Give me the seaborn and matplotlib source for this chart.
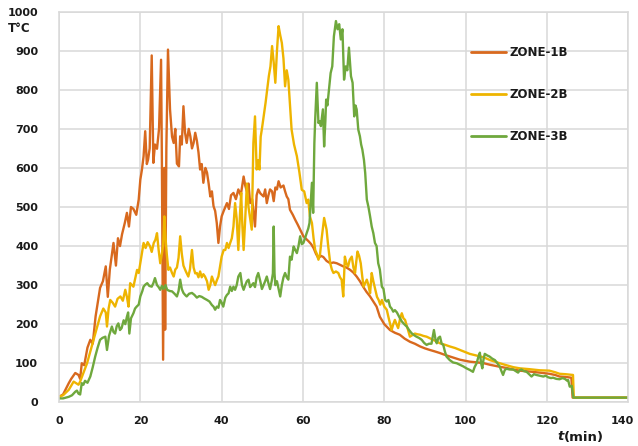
import numpy as np
import pandas as pd
import matplotlib
matplotlib.use("Agg")
import matplotlib.pyplot as plt
import matplotlib.transforms as mtransforms
import seaborn as sns

# ---- temperature records (time in min, temperature in °C) ----
t_zone1 = [0, 1, 2.4, 3, 4, 4.8, 5.2, 5.6, 6.2, 7, 7.7, 8.3, 9, 10.1, 10.8, 11.5, 12, 12.5,
           13.4, 14, 14.5, 15, 15.5, 16.2, 16.7, 17.2, 17.7, 18.3, 19, 19.6, 20, 20.4, 20.8,
           21.2, 21.6, 21.9, 22.3, 22.8, 23.2, 23.6, 24.1, 24.6, 25.1, 25.3, 25.6, 25.9, 26.1,
           26.4, 26.8, 27.3, 27.8, 28.2, 28.6, 29, 29.5, 29.8, 30.2, 30.6, 31, 31.4, 31.9,
           32.3, 32.7, 33.1, 33.5, 33.9, 34.3, 34.7, 35.1, 35.5, 36, 36.4, 36.8, 37.2, 37.6,
           38, 38.4, 38.8, 39.2, 39.6, 40, 40.5, 41.3, 41.8, 42.3, 42.9, 43.5, 44.1, 44.7,
           45.4, 45.8, 46.2, 46.6, 47, 47.5, 48.2, 48.6, 49, 49.5, 50.3, 50.7, 51.1, 51.5,
           51.9, 52.4, 52.8, 53.2, 53.6, 54, 54.5, 55.2, 55.6, 56, 56.4, 56.8, 57.5, 58.1,
           58.7, 59.3, 60.1, 60.8, 61.4, 62, 62.6, 63.2, 63.8, 64.4, 65, 65.8, 66.7, 67.5,
           68.3, 69.1, 69.9, 70.7, 71.6, 72.4, 73.2, 74, 74.8, 75.6, 76.5, 77.3, 78.1, 78.9,
           80, 81.4, 82.6, 83.8, 85, 86.3, 87.5, 88.8, 90, 91.2, 92.5, 93.7, 95, 96.2, 97.4,
           98.6, 100, 101, 103, 104.5, 106, 108.4, 110, 111.7, 113.3, 115.5, 118.2, 120.6,
           122, 123.1, 124.5, 126, 126.3, 140]
v_zone1 = [14, 20, 49, 60, 75, 70, 60, 100, 95, 140, 160, 150, 220, 293, 310, 348, 270, 340,
           408, 350, 420, 400, 430, 460, 485, 450, 500, 495, 480, 519, 570, 596, 630,
           694, 610, 621, 650, 888, 613, 660, 649, 700, 877, 620, 109, 600, 186,
           650, 903, 750, 680, 664, 700, 611, 604, 681, 660, 758, 690, 664, 700,
           681, 650, 664, 690, 670, 640, 596, 610, 562, 600, 588, 560, 527, 540,
           502, 490, 459, 408, 450, 476, 490, 510, 495, 530, 536, 520, 545, 530,
           578, 555, 540, 560, 510, 520, 450, 530, 545, 535, 527, 545, 510, 530,
           545, 540, 515, 550, 545, 566, 550, 555, 540, 527, 520, 493, 480, 467,
           455, 442, 425, 418, 412, 405, 395, 380, 369, 375, 372, 362, 356, 358,
           356, 352, 348, 345, 339, 332, 322, 310, 296, 283, 271, 258, 245, 219,
           200, 185, 178, 173, 163, 155, 150, 143, 138, 134, 130, 126, 121, 117, 113,
           109, 106, 104, 102, 100, 96, 91, 88, 84, 81, 79, 76, 73,
           70, 66, 65, 63, 12, 12]

t_zone2 = [0, 1, 2.4, 3.6, 4.8, 5.2, 6, 6.9, 7.7, 8.5, 9.3, 10.1, 10.9, 11.5, 11.8, 12.2, 12.6,
           13.2, 13.8, 14.4, 15.1, 15.7, 16.3, 16.7, 17.1, 17.5, 18.3, 18.8, 19.2, 19.6, 20.2,
           20.8, 21.3, 21.8, 22.4, 22.8, 23.3, 23.7, 24.1, 24.5, 24.9, 25.3, 25.6, 25.9, 26.2,
           26.5, 26.9, 27.3, 27.8, 28.2, 28.6, 29, 29.4, 29.8, 30.2, 30.6, 31.2, 31.8, 32.2,
           32.7, 33.1, 33.5, 33.9, 34.3, 34.7, 35.1, 35.5, 35.9, 36.4, 36.8, 37.2, 37.6, 38,
           38.4, 38.8, 39.2, 39.6, 40, 40.5, 40.9, 41.3, 41.7, 42.1, 42.5, 42.9, 43.3, 43.7,
           44.1, 44.5, 44.8, 45.1, 45.4, 45.8, 46.2, 46.6, 47, 47.4, 47.8, 48.2, 48.6, 49,
           49.3, 49.6, 49.9, 50.3, 50.8, 51.2, 51.6, 52, 52.4, 52.8, 53.2, 53.6, 54, 54.4,
           54.8, 55.2, 55.6, 56, 56.4, 56.8, 57.2, 57.8, 58.5, 59.1, 59.7, 60.3, 60.9, 61.3,
           61.7, 62.2, 62.6, 63, 63.4, 63.8, 64.2, 64.6, 65.2, 65.8, 66.2, 66.7, 67.1, 67.5,
           68.1, 68.7, 69.1, 69.5, 69.9, 70.3, 70.7, 71.1, 71.5, 72, 72.4, 72.8, 73.1, 73.4,
           73.8, 74.2, 74.6, 74.9, 75.3, 75.7, 76.1, 76.5, 76.9, 77.3, 77.8, 78.2, 78.6, 79,
           79.4, 80, 80.6, 81.2, 81.8, 82.2, 82.6, 83, 83.4, 83.9, 84.3, 84.7, 85.1, 85.7,
           86.3, 86.9, 87.5, 88.2, 88.8, 89.6, 90.4, 91.2, 92, 92.8, 93.7, 95, 96.1, 97.4,
           98.6, 100, 101, 103, 104.5, 106, 108.4, 110, 111.7, 113.3, 115.5, 118.2, 120.6,
           122, 123.1, 124.5, 126.4, 126.6, 140]
v_zone2 = [14, 18, 32, 53, 45, 53, 75, 100, 130, 160, 190, 220, 240, 230, 194, 240, 262,
           255, 245, 265, 271, 260, 288, 270, 245, 305, 296, 320, 339, 331, 370,
           408, 395, 410, 399, 385, 408, 416, 433, 390, 356, 380, 400, 476, 420,
           380, 339, 345, 331, 322, 340, 345, 370, 425, 380, 350, 335, 322, 340,
           390, 345, 330, 331, 320, 335, 320, 328, 322, 310, 288, 300, 322, 310,
           300, 312, 322, 348, 373, 390, 390, 408, 395, 408, 420, 450, 510, 470,
           390, 480, 536, 450, 390, 470, 560, 500, 470, 442, 664, 732, 596, 620,
           596, 680, 700, 730, 767, 800, 835, 860, 912, 870, 818, 900, 963, 940,
           920, 880, 809, 850, 826, 760, 698, 660, 630, 590, 544, 540, 510, 519,
           476, 459, 420, 390, 380, 365, 380, 420, 472, 442, 400, 356, 340, 331,
           335, 331, 320, 314, 271, 373, 355, 348, 365, 373, 345, 331, 360, 386,
           375, 356, 320, 296, 305, 314, 300, 279, 331, 310, 288, 270, 262, 250,
           262, 245, 237, 210, 185, 200, 211, 200, 190, 215, 228, 215, 211, 190,
           168, 172, 176, 174, 173, 170, 168, 164, 160, 156, 151, 147, 143, 139,
           134, 128, 124, 119, 115, 108, 100, 95, 90, 87, 85, 82, 81,
           77, 73, 72, 70, 12, 12]

t_zone3 = [0, 1, 2.4, 3.2, 4, 4.4, 4.8, 5.2, 5.6, 6, 6.4, 7, 7.7, 8.3, 8.9, 9.5, 10.1, 10.7,
           11.4, 11.8, 12.3, 13, 13.4, 13.8, 14.2, 14.6, 15, 15.4, 15.9, 16.3, 16.7, 17, 17.3,
           17.7, 18.3, 18.7, 19.1, 19.6, 20, 20.5, 20.8, 21.2, 21.7, 22.2, 22.8, 23.2, 23.6,
           24.1, 24.5, 24.9, 25.3, 25.7, 26.2, 26.6, 27.2, 27.8, 28.4, 29, 29.4, 29.8, 30.2,
           30.6, 31, 31.4, 32, 32.7, 33.3, 33.9, 34.5, 35.1, 35.7, 36.4, 37, 37.6, 38, 38.4,
           38.8, 39.2, 39.6, 40, 40.4, 40.9, 41.3, 41.7, 42.1, 42.5, 42.9, 43.3, 43.7, 44.1,
           44.6, 45, 45.4, 45.8, 46.2, 46.6, 47, 47.4, 47.8, 48.2, 48.6, 49, 49.5, 49.9, 50.3,
           50.7, 51.1, 51.5, 51.9, 52.3, 52.6, 52.8, 53, 53.2, 53.6, 54, 54.4, 54.8, 55.2,
           55.6, 56, 56.4, 56.8, 57.2, 57.7, 58.1, 58.5, 58.9, 59.3, 59.7, 60.1, 60.5, 60.9,
           61.3, 61.6, 61.9, 62.2, 62.5, 62.8, 63, 63.4, 63.8, 64.1, 64.4, 64.9, 65.2, 65.5,
           65.7, 66, 66.3, 66.8, 67.2, 67.6, 68.1, 68.5, 68.9, 69.3, 69.7, 70.1, 70.5, 70.9,
           71.3, 71.8, 72.2, 72.6, 72.9, 73.2, 73.6, 74, 74.3, 74.6, 75, 75.3, 75.7, 76.1,
           76.5, 76.9, 77.3, 77.7, 78.1, 78.5, 78.9, 79.4, 79.8, 80.2, 80.6, 81, 81.4, 81.8,
           82.2, 82.6, 83.1, 83.7, 84.3, 84.9, 85.5, 86.1, 86.7, 87.3, 87.9, 88.5, 89.2, 89.8,
           90.4, 91, 91.6, 92.2, 92.6, 92.9, 93.3, 93.7, 94.1, 94.5, 94.9, 95.3, 96.1, 96.9,
           97.8, 98.6, 99.4, 100.2, 101, 101.8, 102.2, 102.7, 103.1, 103.5, 103.8, 104.1,
           104.4, 104.7, 105.3, 105.9, 106.5, 107.2, 107.8, 108.4, 108.8, 109.2, 109.6, 110,
           110.8, 111.7, 112.3, 112.9, 113.3, 113.7, 114.3, 115, 115.6, 116.2, 116.8, 117.4,
           118.2, 119.1, 119.7, 120.3, 121, 121.5, 122.3, 123.1, 123.8, 124.4, 125, 125.2,
           125.6, 126.1, 126.5, 140]
v_zone3 = [10, 10, 14, 18, 27, 30, 22, 20, 49, 45, 55, 50, 66, 90, 117, 140, 160, 165,
           168, 134, 170, 194, 180, 176, 195, 202, 185, 190, 210, 200, 219, 230, 176,
           215, 228, 240, 245, 250, 271, 285, 296, 301, 305, 298, 296, 305, 318,
           300, 295, 288, 298, 290, 300, 288, 285, 284, 278, 271, 285, 314, 290,
           280, 275, 271, 278, 280, 275, 268, 272, 270, 266, 262, 258, 249, 245, 237,
           245, 242, 262, 255, 245, 268, 275, 279, 296, 285, 296, 288, 300, 322,
           331, 300, 288, 300, 310, 314, 295, 300, 305, 295, 320, 331, 310, 290, 300,
           310, 322, 305, 290, 310, 330, 450, 330, 300, 310, 290, 271, 300, 320,
           331, 320, 314, 373, 365, 399, 390, 382, 400, 425, 405, 408, 420, 433,
           445, 459, 510, 562, 485, 664, 724, 818, 715, 720, 707, 750, 655, 720,
           775, 760, 792, 843, 860, 937, 976, 955, 968, 929, 955, 826, 860, 850,
           908, 835, 818, 732, 760, 750, 698, 681, 660, 647, 620, 587, 519, 500,
           476, 450, 433, 408, 400, 356, 340, 296, 290, 262, 258, 262, 245, 240,
           232, 236, 230, 218, 207, 200, 194, 185, 177, 172, 168, 165, 160, 152,
           147, 150, 150, 185, 160, 151, 165, 168, 150, 147, 130, 117, 108, 102,
           100, 96, 92, 87, 83, 78, 90, 100, 115, 127, 100, 87,
           110, 124, 120, 117, 112, 108, 100, 91, 80, 70, 82, 86,
           84, 84, 80, 76, 82, 84, 80, 78, 72, 66, 72, 70,
           68, 66, 68, 64, 62, 63, 60, 59, 62, 60, 55, 57,
           40, 42, 12, 12]

zone_names = ["ZONE-1B", "ZONE-2B", "ZONE-3B"]
zone_colors = ["#D8691E", "#EEB400", "#6FA83D"]
x_ticks = [0, 20, 40, 60, 80, 100, 120, 140]
y_ticks = [0, 100, 200, 300, 400, 500, 600, 700, 800, 900, 1000]

series = [(t_zone1, v_zone1), (t_zone2, v_zone2), (t_zone3, v_zone3)]
frames = []
for name, (t, v) in zip(zone_names, series):
    frames.append(pd.DataFrame({"t": t, "T": v, "zone": name}))
df = pd.concat(frames, ignore_index=True)

sns.set_style("white")
plt.rcParams["font.family"] = ["DejaVu Sans"]

fig = plt.figure(figsize=(6.38, 4.46), dpi=100)
ax = fig.add_axes([59 / 638, 1 - 402.3 / 446, (628.3 - 59) / 638, (402.3 - 11.7) / 446])

grid_c = "#D9D9D9"
ink = "#1A1A1A"
for name, color in zip(zone_names, zone_colors):
    sub = df[df["zone"] == name]
    sns.lineplot(data=sub, x="t", y="T", ax=ax, color=color, lw=1.7,
                 estimator=None, sort=False, label=name)

ax.set_xlim(0, 140)
ax.set_ylim(0, 1000)
ax.set_xticks(x_ticks)
ax.set_yticks(y_ticks)
ax.set_xticklabels([str(x) for x in x_ticks])
ax.set_yticklabels([str(y) for y in y_ticks])
ax.grid(True, color=grid_c, lw=1.1)
ax.set_axisbelow(True)
for s in ax.spines.values():
    s.set_color(grid_c)
    s.set_linewidth(1.1)
ax.tick_params(axis="both", length=0, labelsize=8, colors=ink)
ax.tick_params(axis="y", pad=15)
ax.tick_params(axis="x", pad=10)
for lab in ax.get_xticklabels() + ax.get_yticklabels():
    lab.set_fontweight("bold")
# keep the last x label inside the canvas
last = ax.get_xticklabels()[-1]
last.set_horizontalalignment("right")
last.set_transform(last.get_transform()
                   + mtransforms.ScaledTranslation(6 / 100, 0, fig.dpi_scale_trans))
ax.set_xlabel("")
ax.set_ylabel("")

leg = ax.legend(loc="upper left", bbox_to_anchor=(465 / 638, 1 - 40 / 446),
                bbox_transform=fig.transFigure, frameon=False, fontsize=8.5,
                handlelength=3.0, handletextpad=0.25, labelspacing=2.45, borderpad=0)
for txt in leg.get_texts():
    txt.set_fontweight("bold")
    txt.set_color(ink)
for line in leg.get_lines():
    line.set_linewidth(2.0)

fig.text(8 / 638, 1 - 29 / 446, "T°C", ha="left", va="center", fontsize=8.5,
         fontweight="bold", color=ink)

# axis title "t(min)" with an italic t
unit = fig.text(604 / 638, 1 - 437 / 446, "(min)", ha="right", va="center", fontsize=9.5,
                fontweight="bold", color=ink)
fig.canvas.draw()
bb = unit.get_window_extent()
fig.text(bb.x0 / fig.bbox.width - 0.001, 1 - 437 / 446, "t", ha="right", va="center",
         fontsize=9.5, fontweight="bold", fontstyle="italic", color=ink)

fig.savefig("out.png", dpi=100, facecolor="white")
